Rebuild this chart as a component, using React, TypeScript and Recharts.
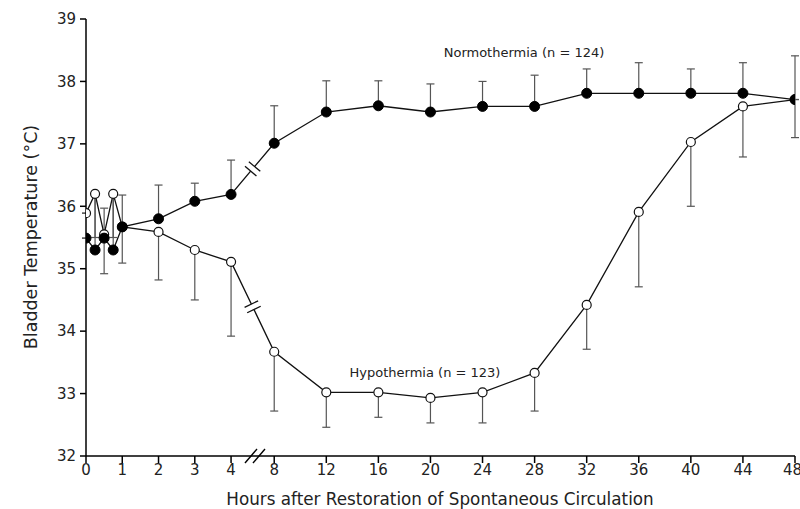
import {
  LineChart,
  Line,
  XAxis,
  YAxis,
  ErrorBar,
  ReferenceLine,
  Customized,
} from 'recharts'

// hours after ROSC (note the axis break between 4 and 8)
const hours = [0, 0.25, 0.5, 0.75, 1, 2, 3, 4, 8, 12, 16, 20, 24, 28, 32, 36, 40, 44, 48]
const hourTicks = [0, 1, 2, 3, 4, 8, 12, 16, 20, 24, 28, 32, 36, 40, 44, 48]

// normothermia (n=124), mean and upper SD
const normoMean = [35.49, 35.3, 35.49, 35.3, 35.67, 35.8, 36.08, 36.19, 37.01, 37.51, 37.61, 37.51, 37.6, 37.6, 37.81, 37.81, 37.81, 37.81, 37.71]
const normoSdUp = [0, 0.88, 0.48, 0.88, 0.51, 0.54, 0.29, 0.55, 0.6, 0.5, 0.4, 0.45, 0.4, 0.5, 0.39, 0.49, 0.39, 0.49, 0.7]

// hypothermia (n=123), mean and lower SD
const hypoMean = [35.89, 36.2, 35.55, 36.2, 35.67, 35.59, 35.3, 35.11, 33.67, 33.02, 33.02, 32.93, 33.02, 33.33, 34.42, 35.91, 37.03, 37.6, 37.71]
const hypoSdDown = [0, 0.7, 0.63, 0.7, 0.58, 0.77, 0.8, 1.19, 0.95, 0.56, 0.4, 0.4, 0.49, 0.61, 0.71, 1.2, 1.03, 0.81, 0.61]

// broken x scale: 0-4 h at one spacing, 8-48 h compressed
const toPos = (h: number) => (h <= 4 ? h : 5.19 + (h - 8) * 0.359)
const xTicks = hourTicks.map(toPos)

const data = hours.map((h, i) => ({
  pos: toPos(h),
  normo: normoMean[i],
  normoErr: [0, normoSdUp[i]],
  hypo: hypoMean[i],
  hypoErr: [hypoSdDown[i], 0],
}))

const W = 800
const H = 509
const M = { top: 19, right: 5, bottom: 8, left: 30 }
const Y_W = 56
const X_H = 45
const X_MAX = toPos(48)
// px per data unit, used only to size the little break glyphs
const PX = (W - M.left - Y_W - M.right) / X_MAX
const PY = (H - M.top - M.bottom - X_H) / 7

const font = '"DejaVu Sans", Verdana, sans-serif'

type Seg = [{ x: number; y: number }, { x: number; y: number }]

// "//" glyph across a line segment between two points
function breakGlyph(x1: number, y1: number, x2: number, y2: number) {
  const mx = (x1 + x2) / 2
  const my = (y1 + y2) / 2
  let dx = (x2 - x1) * PX
  let dy = -(y2 - y1) * PY
  const len = Math.hypot(dx, dy)
  dx /= len
  dy /= len
  const nx = -dy
  const ny = dx
  const half = 7.5
  const gap = 3
  const pt = (px: number, py: number) => ({ x: mx + px / PX, y: my - py / PY })
  const slash = (o: number): Seg => [
    pt(dx * o - nx * half, dy * o - ny * half),
    pt(dx * o + nx * half, dy * o + ny * half),
  ]
  const blank: Seg = [pt(-dx * gap, -dy * gap), pt(dx * gap, dy * gap)]
  return { blank, slashes: [slash(-gap), slash(gap)] }
}

const i4 = hours.indexOf(4)
const i8 = hours.indexOf(8)
const normoBreak = breakGlyph(toPos(4), normoMean[i4], toPos(8), normoMean[i8])
const hypoBreak = breakGlyph(toPos(4), hypoMean[i4], toPos(8), hypoMean[i8])

// axis break
const axX = 4.66
const axisSlash = (o: number): Seg => [
  { x: axX + (o - 6) / PX, y: 32 - 7 / PY },
  { x: axX + (o + 6) / PX, y: 32 + 7 / PY },
]
const axisBlank: Seg = [
  { x: axX - 4 / PX, y: 32 },
  { x: axX + 4 / PX, y: 32 },
]

function Texts() {
  return (
    <g fontFamily={font} fill="#222">
      <text x={524} y={57} fontSize={13} textAnchor="middle">
        Normothermia (n = 124)
      </text>
      <text x={425} y={377} fontSize={13} textAnchor="middle">
        Hypothermia (n = 123)
      </text>
      <text x={440} y={505} fontSize={16.8} textAnchor="middle">
        Hours after Restoration of Spontaneous Circulation
      </text>
      <text
        x={37}
        y={237}
        fontSize={17.5}
        textAnchor="middle"
        transform="rotate(-90 37 237)"
      >
        Bladder Temperature (°C)
      </text>
    </g>
  )
}

export default function App() {
  const ticks = { fontSize: 15, fill: '#222', fontFamily: font }
  return (
    <div style={{ position: 'absolute', left: 0, top: 0, background: '#fff' }}>
      <LineChart width={W} height={H} data={data} margin={M}>
        <XAxis
          dataKey="pos"
          type="number"
          domain={[0, X_MAX]}
          ticks={xTicks}
          tickFormatter={(v: number) => String(hourTicks[xTicks.indexOf(v)])}
          height={X_H}
          tickSize={7}
          tickMargin={1}
          tick={ticks}
          axisLine={{ stroke: '#000', strokeWidth: 1.5 }}
          tickLine={{ stroke: '#000', strokeWidth: 1.5 }}
          allowDataOverflow
        />
        <YAxis
          type="number"
          domain={[32, 39]}
          ticks={[32, 33, 34, 35, 36, 37, 38, 39]}
          width={Y_W}
          tickSize={6}
          tickMargin={4}
          tick={ticks}
          axisLine={{ stroke: '#000', strokeWidth: 1.5 }}
          tickLine={{ stroke: '#000', strokeWidth: 1.5 }}
        />
        <Line
          dataKey="hypo"
          type="linear"
          stroke="#111"
          strokeWidth={1.3}
          dot={{ r: 4.5, fill: '#fff', stroke: '#111', strokeWidth: 1.2 }}
          isAnimationActive={false}
        >
          <ErrorBar dataKey="hypoErr" direction="y" width={4} stroke="#555" strokeWidth={1.2} />
        </Line>
        <Line
          dataKey="normo"
          type="linear"
          stroke="#111"
          strokeWidth={1.3}
          dot={{ r: 5, fill: '#000', stroke: '#000', strokeWidth: 1 }}
          isAnimationActive={false}
        >
          <ErrorBar dataKey="normoErr" direction="y" width={4} stroke="#555" strokeWidth={1.2} />
        </Line>
        {[normoBreak, hypoBreak].map((b, k) => (
          <ReferenceLine key={'b' + k} segment={b.blank} stroke="#fff" strokeWidth={4} ifOverflow="visible" />
        ))}
        {[...normoBreak.slashes, ...hypoBreak.slashes].map((s, k) => (
          <ReferenceLine key={'s' + k} segment={s} stroke="#111" strokeWidth={1.3} ifOverflow="visible" />
        ))}
        <ReferenceLine segment={axisBlank} stroke="#fff" strokeWidth={4} ifOverflow="visible" />
        {[-4, 4].map((o) => (
          <ReferenceLine key={'a' + o} segment={axisSlash(o)} stroke="#000" strokeWidth={1.4} ifOverflow="visible" />
        ))}
        <Customized component={Texts} />
      </LineChart>
    </div>
  )
}
